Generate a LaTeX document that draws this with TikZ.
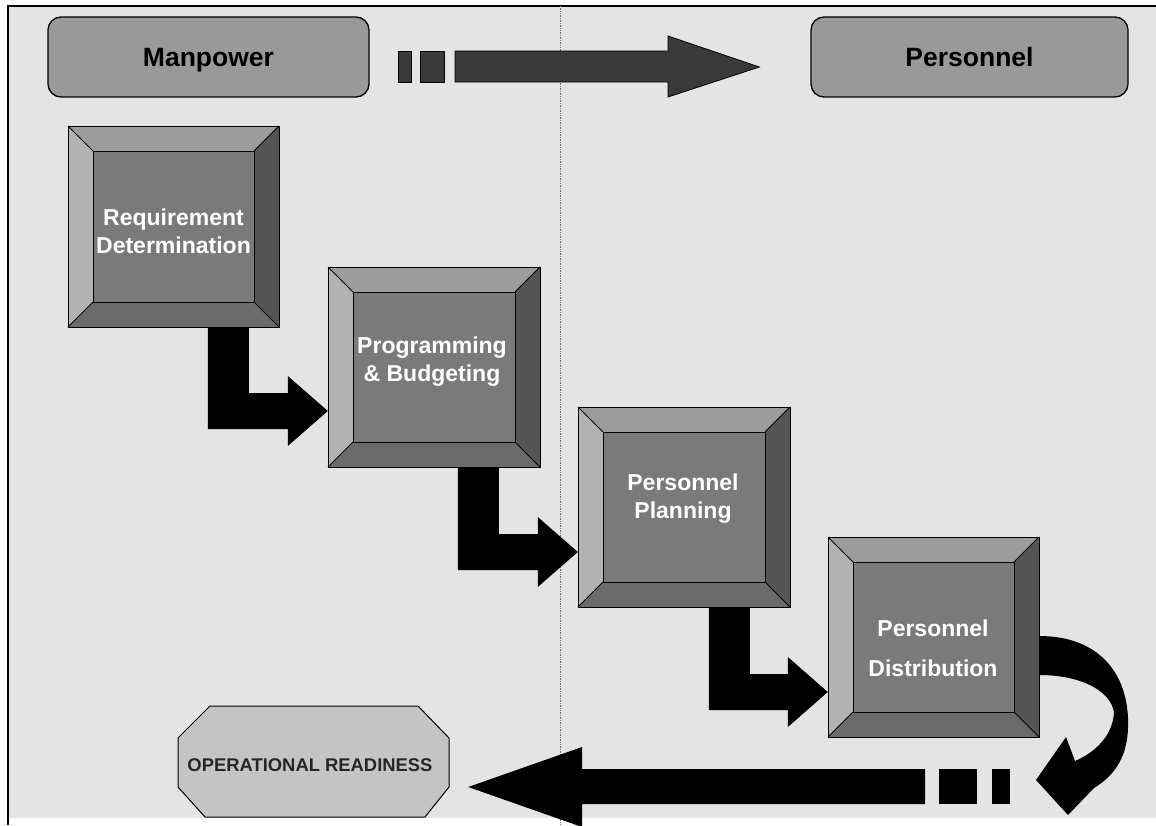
\documentclass[tikz,border=0pt]{standalone}
\usepackage{fontspec}
\setmainfont{Liberation Sans}
\usetikzlibrary{calc}
\definecolor{bg}{HTML}{E4E4E4}
\definecolor{face}{HTML}{7A7A7A}
\definecolor{bevtop}{HTML}{9C9C9C}
\definecolor{bevleft}{HTML}{B2B2B2}
\definecolor{bevright}{HTML}{555555}
\definecolor{bevbot}{HTML}{6B6B6B}
\definecolor{hdr}{HTML}{999999}
\definecolor{toparrow}{HTML}{3A3A3A}
\definecolor{octfill}{HTML}{C4C4C4}
\tikzset{
  bevline/.style={draw=black, line width=1pt, line join=miter},
  hdrbox/.style={draw=black, line width=1.3pt, fill=hdr, rounded corners=13pt,
    font=\fontsize{26.5}{30}\selectfont\bfseries, text=black, inner sep=0pt},
  boxtext/.style={text=white, align=center, font=\fontsize{23}{28}\selectfont\bfseries, inner sep=0pt},
  elbowarrow/.style={fill=black},
  toparr/.style={fill=toparrow, draw=black, line width=0.8pt},
  octbox/.style={fill=octfill, draw=black, line width=1pt},
  divider/.style={densely dotted, line width=0.7pt, draw=black!55}
}
\newcommand\bevbox[5]{%
  \fill[face] (#2,#3) rectangle (#4,#5);
  \fill[bevtop] (#2,#3) -- (#4,#3) -- ({#4-25},{#3+25}) -- ({#2+25},{#3+25}) -- cycle;
  \fill[bevleft] (#2,#3) -- ({#2+25},{#3+25}) -- ({#2+25},{#5-25}) -- (#2,#5) -- cycle;
  \fill[bevright] (#4,#3) -- (#4,#5) -- ({#4-25},{#5-25}) -- ({#4-25},{#3+25}) -- cycle;
  \fill[bevbot] (#2,#5) -- (#4,#5) -- ({#4-25},{#5-25}) -- ({#2+25},{#5-25}) -- cycle;
  \draw[bevline] (#2,#3) rectangle (#4,#5);
  \draw[bevline] ({#2+25},{#3+25}) rectangle ({#4-25},{#5-25});
  \draw[bevline] (#2,#3) -- ({#2+25},{#3+25}) (#4,#3) -- ({#4-25},{#3+25})
     (#2,#5) -- ({#2+25},{#5-25}) (#4,#5) -- ({#4-25},{#5-25});
  \node[inner sep=0pt, minimum width={(#4-#2)*1pt}, minimum height={(#5-#3)*1pt}]
     (#1) at ({(#2+#4)/2},{(#3+#5)/2}) {};
}
\newcommand\elbow[4]{%
  \fill[elbowarrow] let \p1=($(#1.south west)+(#3,0)$), \p2=($(#2.west)+(0,#4)$) in
    (\x1,\y1) -- (\x1+41pt,\y1) -- (\x1+41pt,\y2+18pt) -- (\x2-40pt,\y2+18pt)
    -- (\x2-40pt,\y2+35pt) -- (\x2,\y2) -- (\x2-40pt,\y2-35pt) -- (\x2-40pt,\y2-18pt)
    -- (\x1,\y2-18pt) -- cycle;
}
\begin{document}
\begin{tikzpicture}[x=1pt,y=-1pt]
\useasboundingbox (0,0) rectangle (1156,825);
\fill[white] (0,0) rectangle (1156,825);
\fill[bg] (8,6) rectangle (1156,818);
\draw[line width=2pt] (8,825) -- (8,6) -- (1156,6);
\draw[divider] (560,6) -- (560,825);

% header boxes
\node[hdrbox, minimum width=321pt, minimum height=80pt, text depth=0pt] (m) at (208.5,57) {Manpower};
\node[hdrbox, minimum width=317pt, minimum height=80pt, text depth=0pt] (p) at (969.5,57) {Personnel};

% top arrow
\coordinate (tb) at ($(p.west)+(-51,10)$);
\draw[toparr] (398,51) rectangle (411,82);
\draw[toparr] (420,51) rectangle (444,82);
\draw[toparr] (455,51) -- (668,51) -- (668,36) -- (tb) -- (668,97) -- (668,82) -- (455,82) -- cycle;

% bevel boxes
\bevbox{b1}{68}{126}{279}{327}
\bevbox{b2}{328}{267}{540}{467}
\bevbox{b3}{578}{407}{790}{607}
\bevbox{b4}{828}{537}{1039}{737}

\node[boxtext] (t1) at (173.5,231) {Requirement\\Determination};
\node[boxtext] (t2) at (432,362) {Programming\\\& Budgeting};
\node[boxtext] (t3) at (683,499) {Personnel\\Planning};
\node[boxtext] (t4) at (933,648) {Personnel\\[12pt]Distribution};

% elbow arrows
\elbow{b1}{b2}{140}{44}
\elbow{b2}{b3}{130}{45}
\elbow{b3}{b4}{131}{55}

% curved return arrow
\fill[black] (b4.east |- 0,636) .. controls (1100,636) and (1130,675) .. (1128,728)
  .. controls (1127,760) and (1112,777) .. (1094,788) -- (1068,815) -- (1036,780)
  -- (1066,737) -- (1075,761) .. controls (1096,752) and (1113,735) .. (1114,712)
  .. controls (1110,690) and (1080,675) .. (b4.east |- 0,675) -- cycle;

% operational readiness
\node[minimum width=271pt, minimum height=111pt, inner sep=0pt] (o) at (313.5,761.5) {};
\draw[octbox] (210,706) -- (418,706) -- (449,738) -- (449,787) -- (425,817) -- (205,817)
  -- (178,787) -- (178,738) -- cycle;
\node[font=\fontsize{18.4}{20}\selectfont\bfseries, text=black!85, inner sep=0pt] (ot) at (310,765) {OPERATIONAL READINESS};

% bottom arrow
\fill[black] (992,769) rectangle (1010,804);
\fill[black] (939,769) rectangle (977,804);
\fill[black] (925,769) -- (582,769) -- (582,747) -- ($(o.east)+(19,25.5)$) -- (582,827) -- (582,804) -- (925,804) -- cycle;
\end{tikzpicture}
\end{document}
